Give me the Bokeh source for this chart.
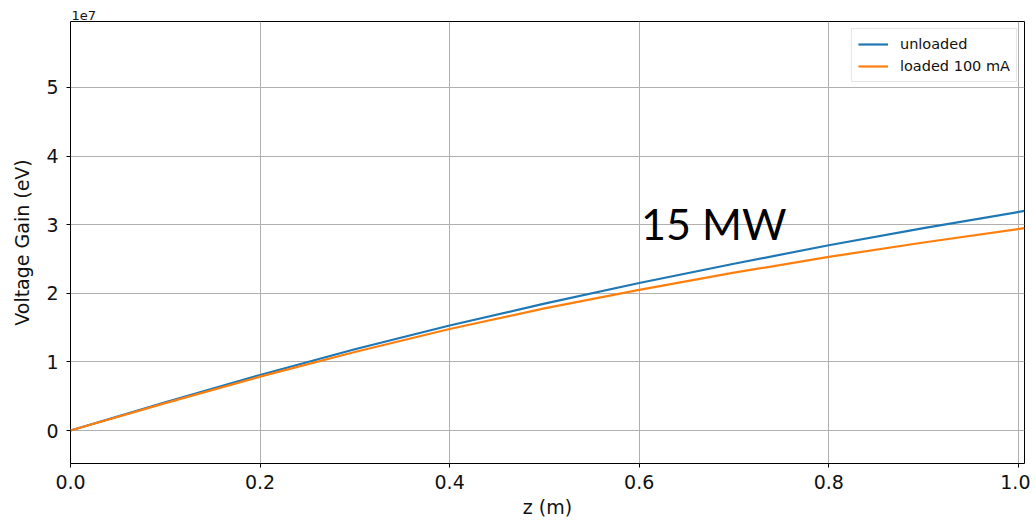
from bokeh.plotting import figure
from bokeh.models import FixedTicker, CustomJSTickFormatter, Label, Range1d, Legend, LegendItem, Title
from bokeh.embed import file_html
from bokeh.resources import INLINE

# data (z in m, voltage gain in eV)
z = [0.0, 0.1, 0.2, 0.3, 0.4, 0.5, 0.6, 0.7, 0.8, 0.9, 1.0065]
unloaded = [0.0, 0.41e7, 0.81e7, 1.185e7, 1.53e7, 1.85e7, 2.15e7, 2.43e7, 2.70e7, 2.95e7, 3.20e7]
loaded = [0.0, 0.40e7, 0.785e7, 1.145e7, 1.48e7, 1.78e7, 2.05e7, 2.30e7, 2.53e7, 2.74e7, 2.95e7]
x_ticks = [0.0, 0.2, 0.4, 0.6, 0.8, 1.0]
y_ticks = [0, 1e7, 2e7, 3e7, 4e7, 5e7]
annotation = "15 MW"
annotation_pos = (0.602, 3.02e7)

FONT = "DejaVu Sans"
TXT = "#111111"

p = figure(width=1030, height=520, output_backend="svg", toolbar_location=None,
           x_range=Range1d(0.0, 1.0065), y_range=Range1d(-0.48e7, 5.96e7),
           min_border_left=70, min_border_right=6, min_border_top=21, min_border_bottom=55)

r1 = p.line(z, unloaded, line_color="#1f77b4", line_width=2.2)
r2 = p.line(z, loaded, line_color="#ff7f0e", line_width=2.2)

p.outline_line_color = "black"
p.outline_line_width = 1
p.background_fill_color = "white"
p.border_fill_color = "white"

for g in (p.xgrid[0], p.ygrid[0]):
    g.grid_line_color = "#b0b0b0"
    g.grid_line_width = 1

p.xaxis.ticker = FixedTicker(ticks=x_ticks)
p.yaxis.ticker = FixedTicker(ticks=y_ticks)
p.xaxis.formatter = CustomJSTickFormatter(code="return tick.toFixed(1);")
p.yaxis.formatter = CustomJSTickFormatter(code="return (tick/1e7).toFixed(0);")

for ax in (p.xaxis[0], p.yaxis[0]):
    ax.axis_line_color = None
    ax.major_tick_line_color = "black"
    ax.major_tick_out = 4
    ax.major_tick_in = 0
    ax.minor_tick_line_color = None
    ax.major_label_text_font = FONT
    ax.major_label_text_font_size = "19px"
    ax.major_label_text_color = TXT
    ax.axis_label_text_font = FONT
    ax.axis_label_text_font_size = "19px"
    ax.axis_label_text_font_style = "normal"
    ax.axis_label_text_color = TXT

p.xaxis.axis_label = "z (m)"
p.yaxis.axis_label = "Voltage Gain (eV)"
p.xaxis.major_label_standoff = 7
p.xaxis.axis_label_standoff = 4
p.yaxis.major_label_standoff = 8
p.yaxis.axis_label_standoff = 10

legend = Legend(items=[LegendItem(label="unloaded", renderers=[r1]),
                       LegendItem(label="loaded 100 mA", renderers=[r2])],
                location="top_right")
legend.label_text_font = FONT
legend.label_text_font_size = "14.5px"
legend.label_text_color = TXT
legend.border_line_color = "#cccccc"
legend.border_line_width = 1
legend.background_fill_alpha = 0.8
legend.glyph_width = 30
legend.glyph_height = 18
legend.label_height = 18
legend.spacing = 4
legend.padding = 6
legend.margin = 7
legend.label_standoff = 12
p.add_layout(legend)

# scale factor text above the y axis
sci = Title(text="1e7", align="left", text_font=FONT, text_font_size="13px",
            text_font_style="normal", text_color=TXT, standoff=4, offset=1)
p.add_layout(sci, "above")

p.add_layout(Label(x=annotation_pos[0], y=annotation_pos[1], text=annotation,
                   text_font="Lato", text_font_size="43px",
                   text_color="black", text_baseline="alphabetic"))

open("out.html", "w").write(file_html(p, INLINE))
